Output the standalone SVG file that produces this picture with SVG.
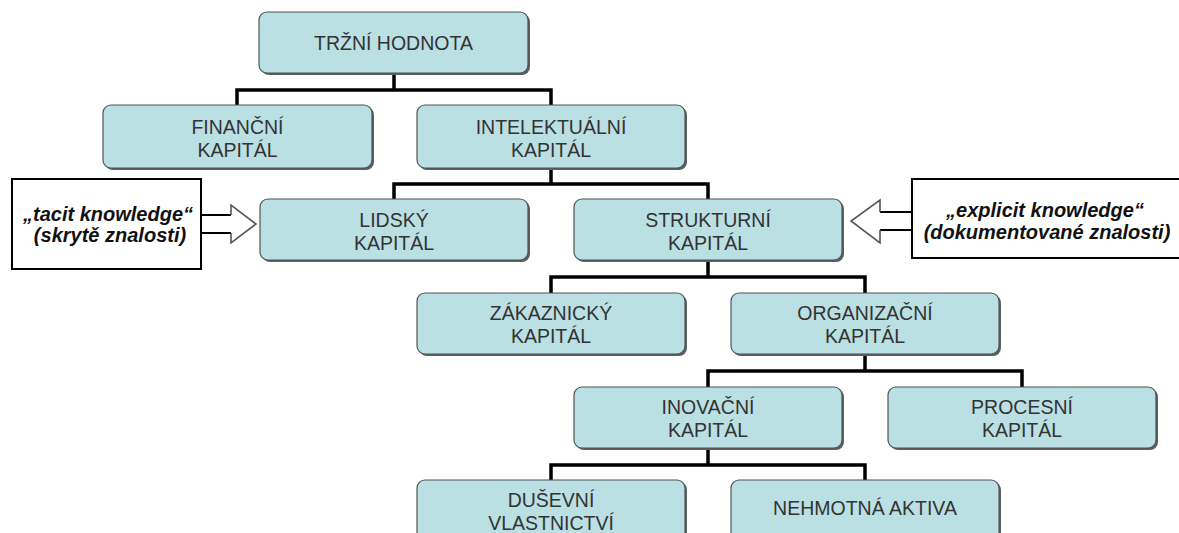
<svg xmlns="http://www.w3.org/2000/svg" width="1179" height="533" viewBox="0 0 1179 533">
  <defs>
    <style>
      .shadow { fill: #5a5f60; }
      .box { fill: #bae0e3; stroke: #4d5557; stroke-width: 1.2; }
      .lbl { font-family: "Liberation Sans", Arial, sans-serif; font-size: 19.5px; fill: #333; text-anchor: middle; }
      .note { font-family: "Liberation Sans", Arial, sans-serif; font-size: 20px; font-weight: bold; font-style: italic; fill: #111; text-anchor: middle; }
      .conn { fill: none; stroke: #000; stroke-width: 3.5; stroke-linejoin: miter; }
      .nbox { fill: #fff; stroke: #000; stroke-width: 2; }
      .shaft { fill: none; stroke: #000; stroke-width: 2; }
      .head { fill: #fff; stroke: #555; stroke-width: 1.6; stroke-linejoin: miter; }
    </style>
  </defs>

  <rect width="1179" height="533" fill="#fff"/>

  <!-- tree connectors -->
  <g id="connectors">
    <path class="conn" d="M394,73 V90 M237,105 V90 H551 V105"/>
    <path class="conn" d="M551,168 V184 M394,199 V184 H708 V199"/>
    <path class="conn" d="M708,260 V277 M551,293 V277 H865 V293"/>
    <path class="conn" d="M865,354 V371 M708,387 V371 H1022 V387"/>
    <path class="conn" d="M708,448 V465 M551,480 V465 H865 V480"/>
  </g>

  <g id="trzni-hodnota">
    <rect class="shadow" x="261" y="14" width="269" height="61" rx="8"/>
    <rect class="box" x="259" y="12" width="269" height="61" rx="8"/>
    <text class="lbl" x="393.5" y="50">TRŽNÍ HODNOTA</text>
  </g>

  <g id="financni-kapital">
    <rect class="shadow" x="105" y="107" width="269" height="63" rx="8"/>
    <rect class="box" x="103" y="105" width="269" height="63" rx="8"/>
    <text class="lbl" x="237.5" y="134">FINANČNÍ</text>
    <text class="lbl" x="237.5" y="157">KAPITÁL</text>
  </g>

  <g id="intelektualni-kapital">
    <rect class="shadow" x="419" y="107" width="268" height="63" rx="8"/>
    <rect class="box" x="417" y="105" width="268" height="63" rx="8"/>
    <text class="lbl" x="551" y="134">INTELEKTUÁLNÍ</text>
    <text class="lbl" x="551" y="157">KAPITÁL</text>
  </g>

  <g id="lidsky-kapital">
    <rect class="shadow" x="262" y="201" width="268" height="61" rx="8"/>
    <rect class="box" x="260" y="199" width="268" height="61" rx="8"/>
    <text class="lbl" x="394" y="227">LIDSKÝ</text>
    <text class="lbl" x="394" y="250">KAPITÁL</text>
  </g>

  <g id="strukturni-kapital">
    <rect class="shadow" x="576" y="201" width="268" height="61" rx="8"/>
    <rect class="box" x="574" y="199" width="268" height="61" rx="8"/>
    <text class="lbl" x="708" y="227">STRUKTURNÍ</text>
    <text class="lbl" x="708" y="250">KAPITÁL</text>
  </g>

  <g id="zakaznicky-kapital">
    <rect class="shadow" x="419" y="295" width="268" height="61" rx="8"/>
    <rect class="box" x="417" y="293" width="268" height="61" rx="8"/>
    <text class="lbl" x="551" y="320">ZÁKAZNICKÝ</text>
    <text class="lbl" x="551" y="343">KAPITÁL</text>
  </g>

  <g id="organizacni-kapital">
    <rect class="shadow" x="733" y="295" width="268" height="61" rx="8"/>
    <rect class="box" x="731" y="293" width="268" height="61" rx="8"/>
    <text class="lbl" x="865" y="320">ORGANIZAČNÍ</text>
    <text class="lbl" x="865" y="343">KAPITÁL</text>
  </g>

  <g id="inovacni-kapital">
    <rect class="shadow" x="576" y="389" width="268" height="61" rx="8"/>
    <rect class="box" x="574" y="387" width="268" height="61" rx="8"/>
    <text class="lbl" x="708" y="414">INOVAČNÍ</text>
    <text class="lbl" x="708" y="437">KAPITÁL</text>
  </g>

  <g id="procesni-kapital">
    <rect class="shadow" x="890" y="389" width="268" height="61" rx="8"/>
    <rect class="box" x="888" y="387" width="268" height="61" rx="8"/>
    <text class="lbl" x="1022" y="414">PROCESNÍ</text>
    <text class="lbl" x="1022" y="437">KAPITÁL</text>
  </g>

  <g id="dusevni-vlastnictvi">
    <rect class="shadow" x="419" y="482" width="268" height="61" rx="8"/>
    <rect class="box" x="417" y="480" width="268" height="61" rx="8"/>
    <text class="lbl" x="551" y="507">DUŠEVNÍ</text>
    <text class="lbl" x="551" y="530">VLASTNICTVÍ</text>
  </g>

  <g id="nehmotna-aktiva">
    <rect class="shadow" x="733" y="482" width="268" height="61" rx="8"/>
    <rect class="box" x="731" y="480" width="268" height="61" rx="8"/>
    <text class="lbl" x="865" y="515">NEHMOTNÁ AKTIVA</text>
  </g>

  <!-- tacit knowledge callout with block arrow into LIDSKÝ KAPITÁL -->
  <g id="tacit-knowledge">
    <rect class="nbox" x="12" y="179" width="189" height="90"/>
    <path class="shaft" d="M201,215 H231 M201,233 H231"/>
    <path class="head" d="M231,215 V205 L256,224 L231,243 V233"/>
    <text class="note" x="108" y="221">„tacit knowledge“</text>
    <text class="note" x="110" y="242">(skrytě znalosti)</text>
  </g>

  <!-- explicit knowledge callout with block arrow into STRUKTURNÍ KAPITÁL -->
  <g id="explicit-knowledge">
    <rect class="nbox" x="912" y="179" width="270" height="79"/>
    <path class="shaft" d="M912,212 H880 M912,230 H880"/>
    <path class="head" d="M880,212 V200 L851,221 L880,243 V230"/>
    <text class="note" x="1045" y="217">„explicit knowledge“</text>
    <text class="note" x="1047" y="239">(dokumentované znalosti)</text>
  </g>
</svg>
